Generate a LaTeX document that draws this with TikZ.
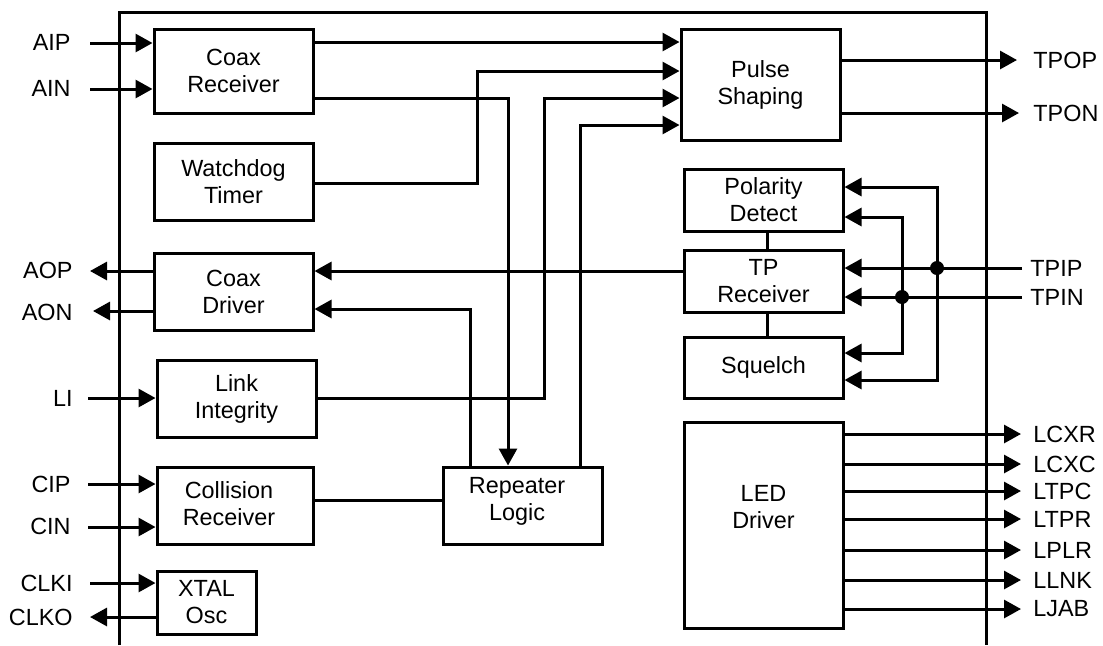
\documentclass[tikz,border=0pt]{standalone}
\usepackage{fontspec}
\setmainfont{Liberation Sans}
\usetikzlibrary{arrows.meta}
\newcommand{\bx}[6]{%
  \pgfmathsetmacro{\myBW}{(#4-#2)*0.5}%
  \pgfmathsetmacro{\myBH}{(#5-#3)*0.5}%
  \node[blk, minimum width=\myBW pt, minimum height=\myBH pt] (#1) at ({(#2+#4)/2},{(#3+#5)/2}) {#6};}
\tikzset{
  blk/.style={draw, line width=1.5pt, align=center, inner sep=0pt, font=\fontsize{11.7}{13.5}\selectfont},
  wire/.style={line width=1.5pt},
  arr/.style={wire, -{Triangle[length=8.5pt,width=9pt]}},
  lbl/.style={inner sep=0pt, font=\fontsize{11.7}{13.5}\selectfont},
  dot/.style={circle, fill=black, inner sep=0pt, minimum size=7pt}
}
\begin{document}
\begin{tikzpicture}[x=0.5pt, y=-0.5pt]
\useasboundingbox (0,0) rectangle (1103,645);
% frame
\coordinate (fbl) at (119,645);
\coordinate (ftl) at (119,12);
\coordinate (ftr) at (986,12);
\coordinate (fbr) at (986,645);
\draw[wire] (fbl) -- (ftl) -- (ftr) -- (fbr);
% boxes
\bx{cr}{154}{29}{313}{113}{Coax\\Receiver}
\bx{wd}{154}{143}{313}{220}{Watchdog\\Timer}
\bx{cd}{154}{253}{313}{330}{Coax\\Driver}
\bx{li}{157}{360}{316}{437}{Link\\Integrity}
\bx{col}{157}{467}{313}{544}{}
\node[lbl, align=center] (colt) at (229,504) {Collision\\Receiver};
\bx{xo}{157}{571}{256}{634}{XTAL\\Osc}
\bx{rl}{443}{467}{602}{544}{}
\node[lbl, align=center] (rlt) at (517,501) {Repeater\\Logic};
\bx{ps}{681}{29}{840}{140}{Pulse\\Shaping}
\bx{pd}{684}{169}{843}{231}{Polarity\\Detect}
\bx{tp}{684}{250}{843}{312}{TP\\Receiver}
\bx{sq}{684}{337}{843}{398}{Squelch}
\bx{led}{684}{422}{843}{628}{}
\node[lbl, align=center] (ledt) at (763.5,507) {LED\\Driver};
% left pins
\coordinate (pAIP) at (90,43);
\coordinate (pAIN) at (90,89);
\coordinate (pAOP) at (90,271);
\coordinate (pAON) at (93,311);
\coordinate (pLI) at (88,398);
\coordinate (pCIP) at (88,484);
\coordinate (pCIN) at (88,527);
\coordinate (pCLKI) at (90,583);
\coordinate (pCLKO) at (90,617);
\node[lbl, anchor=east] (lAIP) at (71,42) {AIP};
\node[lbl, anchor=east] (lAIN) at (71,88) {AIN};
\node[lbl, anchor=east] (lAOP) at (73,270) {AOP};
\node[lbl, anchor=east] (lAON) at (73,312) {AON};
\node[lbl, anchor=east] (lLI) at (73,398) {LI};
\node[lbl, anchor=east] (lCIP) at (71,484) {CIP};
\node[lbl, anchor=east] (lCIN) at (71,526) {CIN};
\node[lbl, anchor=east] (lCLKI) at (73,583) {CLKI};
\node[lbl, anchor=east] (lCLKO) at (73,617) {CLKO};
\draw[arr] (pAIP) -- (cr.west |- pAIP);
\draw[arr] (pAIN) -- (cr.west |- pAIN);
\draw[arr] (cd.west |- pAOP) -- (pAOP);
\draw[arr] (cd.west |- pAON) -- (pAON);
\draw[arr] (pLI) -- (li.west |- pLI);
\draw[arr] (pCIP) -- (col.west |- pCIP);
\draw[arr] (pCIN) -- (col.west |- pCIN);
\draw[arr] (pCLKI) -- (xo.west |- pCLKI);
\draw[arr] (xo.west |- pCLKO) -- (pCLKO);
% internal connections
\draw[arr] (cr.east |- 0,42) -- (ps.west |- 0,42);
\draw[arr] (wd.east |- 0,183) -| (477,71) -- (ps.west |- 0,71);
\draw[arr] (cr.east |- 0,98) -| (rl.north -| 508,0);
\draw[arr] (li.east |- 0,398) -| (544,98) -- (ps.west |- 0,98);
\draw[arr] (rl.north -| 470,0) |- (cd.east |- 0,309);
\draw[arr] (rl.north -| 580,0) |- (ps.west |- 0,125);
\draw[wire] (col.east |- 0,500) -- (rl.west |- 0,500);
\draw[arr] (tp.west |- 0,271) -- (cd.east |- 0,271);
\draw[wire] (pd.south -| 767,0) -- (tp.north -| 767,0);
\draw[wire] (tp.south -| 767,0) -- (sq.north -| 767,0);
% pulse shaping outputs
\coordinate (pTPOP) at (1017,60);
\coordinate (pTPON) at (1019,113);
\draw[arr] (ps.east |- pTPOP) -- (pTPOP);
\draw[arr] (ps.east |- pTPON) -- (pTPON);
\node[lbl, anchor=west] (lTPOP) at (1033,60) {TPOP};
\node[lbl, anchor=west] (lTPON) at (1033,113) {TPON};
% TP inputs
\coordinate (pTPIP) at (1022,268);
\coordinate (pTPIN) at (1022,297);
\node[dot] (dP) at (937,268) {};
\node[dot] (dN) at (902,297) {};
\draw[arr] (pTPIP) -- (tp.east |- pTPIP);
\draw[arr] (pTPIN) -- (tp.east |- pTPIN);
\draw[arr] (dP.center) |- (pd.east |- 0,187);
\draw[arr] (dP.center) |- (sq.east |- 0,380);
\draw[arr] (dN.center) |- (pd.east |- 0,217);
\draw[arr] (dN.center) |- (sq.east |- 0,353);
\node[lbl, anchor=west] (lTPIP) at (1030,268) {TPIP};
\node[lbl, anchor=west] (lTPIN) at (1030,297) {TPIN};
% LED outputs
\foreach \nm/\yy in {LCXR/434, LCXC/464, LTPC/491, LTPR/519, LPLR/550, LLNK/580, LJAB/609} {
  \coordinate (p\nm) at (1021,\yy);
  \draw[arr] (led.east |- p\nm) -- (p\nm);
  \node[lbl, anchor=west] (l\nm) at (1033,\yy) {\nm};
}
\end{tikzpicture}
\end{document}
